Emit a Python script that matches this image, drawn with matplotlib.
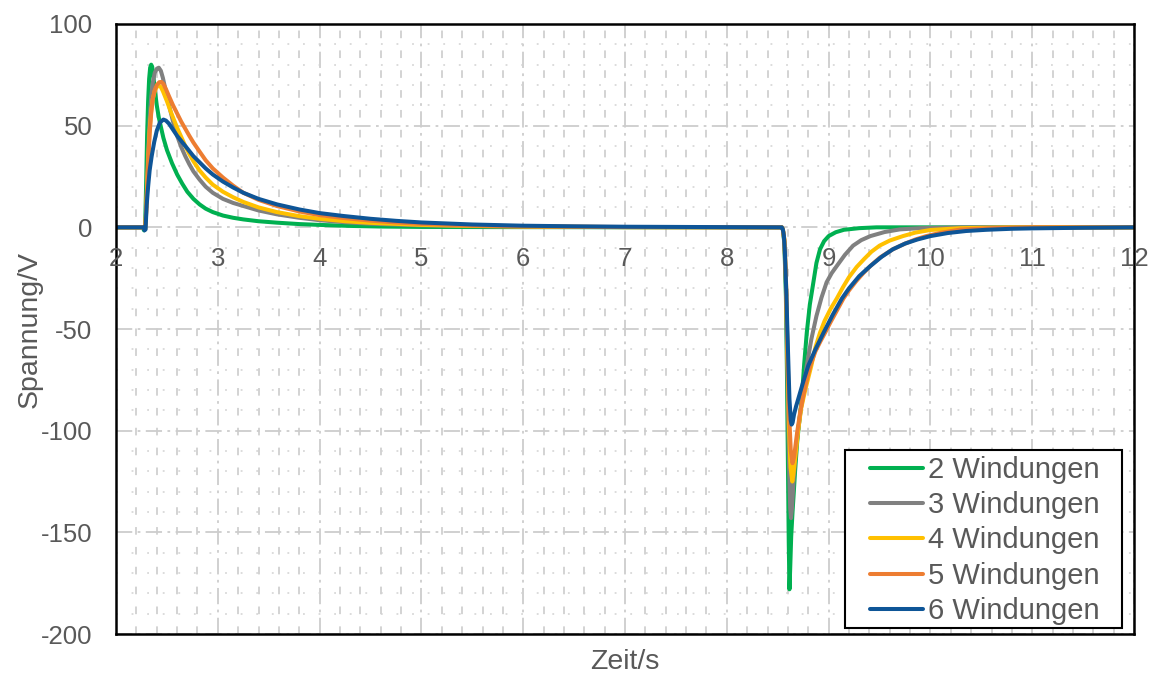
import numpy as np
import matplotlib.pyplot as plt
from matplotlib.patches import Rectangle
from matplotlib.ticker import MultipleLocator

plt.rcParams["font.family"] = ["Liberation Sans", "DejaVu Sans"]

# Series (Zeit in s, Spannung in V)
labels = ["2 Windungen", "3 Windungen", "4 Windungen", "5 Windungen", "6 Windungen"]
colors = ["#00B050", "#808080", "#FFC000", "#ED7D31", "#0E5597"]

t_2w = [2.0, 2.26, 2.275, 2.285, 2.295, 2.305, 2.315, 2.325, 2.335, 2.345, 2.355,
        2.365, 2.38, 2.40, 2.42, 2.44, 2.465, 2.5, 2.55, 2.6, 2.65, 2.7, 2.76,
        2.82, 2.88, 2.95, 3.05, 3.15, 3.25, 3.4, 3.58, 3.8, 4.0, 4.3, 4.6, 5.0,
        6.0, 8.54,
        8.55, 8.565, 8.58, 8.59, 8.60, 8.608, 8.615, 8.622, 8.632, 8.645, 8.654,
        8.67, 8.69, 8.71, 8.735, 8.76, 8.785, 8.815, 8.85, 8.88, 8.915, 8.955,
        9.0, 9.07, 9.15, 9.3, 9.47, 12.0]
v_2w = [0, 0, -1.5, -1, 20, 45, 62, 73, 78.5, 80, 79,
        75, 68, 60, 54, 49.5, 44, 38, 31.5, 26, 21.5, 17.5, 14,
        11.3, 9.2, 7.5, 5.8, 4.7, 3.9, 3.0, 2.3, 1.6, 1.2, 0.7, 0.4, 0.2,
        0.1, 0,
        -1, -8, -34, -70, -117, -155, -178, -168, -152, -140, -133,
        -120, -106, -96, -84.6, -67, -51.8, -38, -27, -17.5, -10.8, -6.8,
        -4.3, -2.4, -1.2, -0.4, 0, 0]

t_3w = [2.0, 2.27, 2.285, 2.295, 2.305, 2.318, 2.33, 2.345, 2.36, 2.38, 2.40,
        2.42, 2.44, 2.46, 2.48, 2.5, 2.53, 2.56, 2.6, 2.64, 2.68, 2.72, 2.76,
        2.82, 2.88, 2.95, 3.05, 3.15, 3.25, 3.4, 3.58, 3.8, 4.0, 4.25, 4.5,
        5.0, 5.5, 6.0, 7.0, 8.54,
        8.55, 8.565, 8.58, 8.595, 8.61, 8.622, 8.63, 8.64, 8.655, 8.67, 8.69,
        8.72, 8.75, 8.785, 8.83, 8.88, 8.93, 8.98, 9.03, 9.08, 9.16, 9.24,
        9.32, 9.41, 9.55, 9.7, 9.9, 10.3, 12.0]
v_3w = [0, 0, -1, 8, 22, 40, 53, 64, 71, 76, 78,
        78.5, 77, 73.5, 69, 64.5, 58, 52, 45, 39.5, 35, 31, 27.5,
        23.5, 20, 17, 14, 12, 10.5, 8.3, 6.4, 4.7, 3.5, 2.5, 1.8,
        1.0, 0.6, 0.3, 0.1, 0,
        -1, -7, -28, -70, -115, -138, -143, -138, -125, -115, -104,
        -92, -80, -68, -55, -43.6, -34.5, -27, -22.5, -19, -13.5, -9,
        -6.3, -4.3, -2.3, -1, -0.4, 0, 0]

t_4w = [2.0, 2.27, 2.285, 2.295, 2.305, 2.318, 2.33, 2.345, 2.36, 2.38, 2.40,
        2.42, 2.44, 2.46, 2.48, 2.5, 2.54, 2.6, 2.64, 2.68, 2.72, 2.76, 2.82,
        2.88, 2.95, 3.05, 3.15, 3.25, 3.4, 3.58, 3.8, 4.0, 4.25, 4.5, 5.0,
        5.5, 6.0, 7.0, 8.54,
        8.55, 8.565, 8.58, 8.595, 8.61, 8.625, 8.643, 8.655, 8.67, 8.685, 8.70,
        8.73, 8.77, 8.83, 8.87, 8.915, 8.96, 9.02, 9.08, 9.14, 9.2, 9.275,
        9.35, 9.42, 9.5, 9.6, 9.73, 9.85, 10.0, 10.3, 10.8, 12.0]
v_4w = [0, 0, -1, 7, 20, 36, 48, 57, 63, 67, 69,
        69.8, 69, 67, 64.5, 62, 56.5, 49, 44.5, 40, 36, 32.5, 28,
        24.5, 21, 17.5, 14.8, 12.5, 9.8, 7.5, 5.5, 4.2, 3, 2.2, 1.2,
        0.7, 0.4, 0.1, 0,
        -1, -6, -25, -62, -98, -118, -125, -121, -114, -107, -100,
        -89, -80, -68, -59, -51.8, -46, -40, -35, -29.5, -24.5, -19.5,
        -15.5, -12, -9, -6.5, -4.3, -2.6, -1.3, -0.4, 0, 0]

t_5w = [2.0, 2.27, 2.285, 2.295, 2.305, 2.318, 2.33, 2.345, 2.36, 2.38, 2.40,
        2.425, 2.445, 2.465, 2.49, 2.52, 2.56, 2.6, 2.64, 2.68, 2.72, 2.76,
        2.82, 2.88, 2.95, 3.05, 3.15, 3.25, 3.4, 3.58, 3.8, 4.0, 4.23, 4.5,
        4.75, 5.0, 5.5, 6.0, 7.0, 8.54,
        8.55, 8.565, 8.58, 8.595, 8.61, 8.628, 8.645, 8.66, 8.675, 8.69, 8.72,
        8.75, 8.785, 8.82, 8.87, 8.92, 8.965, 9.02, 9.08, 9.145, 9.2, 9.27,
        9.34, 9.41, 9.5, 9.63, 9.75, 9.85, 9.96, 10.1, 10.29, 10.6, 11.0, 12.0]
v_5w = [0, 0, -1, 6, 18, 34, 46, 56, 63, 67.5, 70,
        71.4, 71.5, 70.5, 68, 64.5, 60, 56, 52, 48.5, 45, 41.7,
        37.3, 33, 29, 24.5, 20.5, 17, 13.5, 10.5, 7.8, 6, 4.6, 3.3,
        2.4, 1.7, 0.9, 0.5, 0.15, 0,
        -1, -6, -24, -58, -90, -110, -116, -113, -107, -101, -91,
        -83, -75, -68, -61, -56, -51.8, -46.5, -41, -35, -31, -26.5,
        -22.5, -19, -15, -10.8, -8, -6, -4.3, -2.7, -1.1, -0.4, 0, 0]

t_6w = [2.0, 2.27, 2.28, 2.29, 2.30, 2.315, 2.33, 2.35, 2.375, 2.40, 2.43,
        2.465, 2.49, 2.52, 2.56, 2.6, 2.64, 2.68, 2.72, 2.76, 2.82, 2.88,
        2.95, 3.05, 3.15, 3.25, 3.4, 3.58, 3.8, 4.0, 4.23, 4.5, 4.75, 5.0,
        5.5, 6.0, 6.5, 7.0, 8.0, 8.54,
        8.55, 8.56, 8.57, 8.585, 8.60, 8.615, 8.628, 8.636, 8.646, 8.66, 8.68,
        8.70, 8.75, 8.80, 8.87, 8.95, 9.04, 9.13, 9.2, 9.3, 9.41, 9.52,
        9.63, 9.75, 9.87, 10.0, 10.17, 10.35, 10.55, 10.8, 11.0, 11.5, 12.0]
v_6w = [0, 0, -1.5, -1, 10.5, 20, 28, 35, 42, 47.5, 51.5,
        53, 52.5, 51, 48, 45, 42.5, 40, 37.5, 35, 32, 29,
        26, 22.5, 19.6, 17, 14, 11.3, 8.8, 7, 5.6, 4.2, 3.2, 2.4,
        1.4, 0.8, 0.5, 0.3, 0.1, 0,
        -1, -4, -12, -33.6, -60, -84.6, -95, -97, -96, -92, -88,
        -84.6, -76, -68, -60, -51.8, -43, -35, -30, -24, -19, -14.5,
        -10.8, -8, -6, -4.3, -2.8, -1.8, -1.2, -0.7, -0.5, -0.2, 0]

series_t = [t_2w, t_3w, t_4w, t_5w, t_6w]
series_v = [v_2w, v_3w, v_4w, v_5w, v_6w]

x_ticks = [2, 3, 4, 5, 6, 7, 8, 9, 10, 11, 12]
y_ticks = [-200, -150, -100, -50, 0, 50, 100]

text_color = "#595959"

fig = plt.figure(figsize=(11.49, 6.74), dpi=100)
ax = fig.add_axes([0.101, 0.0593, 0.886, 0.9051])

for t, v, c, lab in zip(series_t, series_v, colors, labels):
    ax.plot(t, v, color=c, lw=2.9, label=lab, solid_joinstyle="round",
            solid_capstyle="round")

ax.set_xlim(2, 12)
ax.set_ylim(-200, 100)
ax.xaxis.set_major_locator(MultipleLocator(1))
ax.xaxis.set_minor_locator(MultipleLocator(0.2))
ax.yaxis.set_major_locator(MultipleLocator(50))
ax.yaxis.set_minor_locator(MultipleLocator(10))

# Excel-style gridlines
ax.grid(which="major", axis="both", color="#CDCDCD", lw=1.3,
        linestyle=(0, (9, 3, 1.5, 3)))
ax.grid(which="minor", axis="x", color="#C8C8C8", lw=1.1,
        linestyle=(0, (5, 8)))
ax.grid(which="minor", axis="y", color="#D2D2D2", lw=1.1,
        linestyle=(0, (1.2, 9)))
ax.set_axisbelow(True)

ax.set_yticks(y_ticks)
ax.set_yticklabels([str(y) for y in y_ticks])
ax.tick_params(axis="y", which="both", length=0, pad=17, labelsize=18.5,
               labelcolor=text_color)
ax.tick_params(axis="x", which="both", length=0, labelbottom=False)

# x labels sit on the zero line, as in Excel
for xv in x_ticks:
    ax.annotate(str(xv), (xv, 0), xytext=(0, -23), textcoords="offset points",
                ha="center", va="center", fontsize=18.5, color=text_color,
                annotation_clip=False)

for s in ax.spines.values():
    s.set_color("black")
    s.set_linewidth(1.8)

ax.set_xlabel("Zeit/s", fontsize=20.5, color=text_color, labelpad=11)
ax.set_ylabel("Spannung/V", fontsize=20.5, color=text_color, labelpad=-1)

# legend box drawn separately so the padding matches Excel
leg = ax.legend(loc="upper left", bbox_to_anchor=(0.741, 0.292),
                fontsize=21, handlelength=1.8, handletextpad=0.18,
                labelspacing=0.25, borderpad=0, borderaxespad=0,
                frameon=False)
for txt in leg.get_texts():
    txt.set_color(text_color)
for ln in leg.get_lines():
    ln.set_linewidth(2.9)
leg.set_zorder(6)
ax.add_patch(Rectangle((0.7161, 0.0098), 0.2721, 0.2918, transform=ax.transAxes,
                       facecolor="white", edgecolor="black", lw=1.5, zorder=5))

fig.savefig("out.png", dpi=100)
